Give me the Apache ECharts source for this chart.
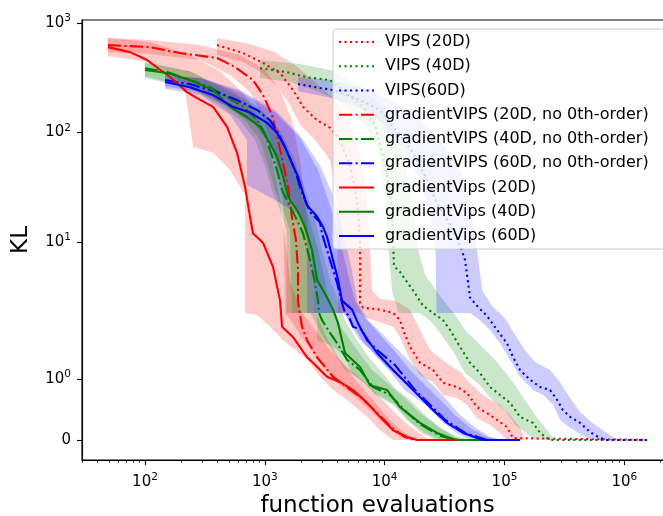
<!DOCTYPE html>
<html>
<head>
<meta charset="utf-8">
<script src="https://cdn.jsdelivr.net/npm/echarts@6/dist/echarts.min.js"></script>
<style>
  html, body { margin: 0; padding: 0; background: #fff; }
  #chart { width: 663px; height: 516px; }
</style>
</head>
<body>
<div id="chart"></div>
<script>
// KL vs function evaluations, [evaluations, KL]
const vips20 = [[399,627],[658,530],[966,430],[1340,348],[1720,243],[2085,171],[2728,129],[3502,110],[4244,85],[5143,50],[5890,24.1],[6233,10.4],[6233,4.5],[6233,2.75],[6607,2.5],[9150,2.4],[11750,2.24],[13440,1.97],[14260,1.81],[16290,1.53],[19740,1.27],[25350,1.15],[30700,0.94],[40200,0.87],[48700,0.77],[59000,0.54],[71600,0.44],[86700,0.33],[105000,0.21],[118000,0.03],[122000,0],[1550000,0]];
const vips40 = [[912,385],[1518,355],[2250,318],[3502,300],[4672,233],[6607,171],[8316,117],[10080,50],[11300,24.1],[11750,10.4],[11970,6.0],[13440,5.3],[17260,3.6],[20940,2.6],[25350,2.24],[30700,1.97],[35130,1.81],[42570,1.53],[51590,1.27],[62520,1.10],[75760,0.87],[91800,0.74],[111300,0.61],[134900,0.38],[173000,0.28],[198200,0.115],[227000,0.03],[240200,0],[1550000,0]];
const vips60 = [[1892,276],[2889,254],[3710,243],[6233,197],[9150,160],[13440,94],[17260,65],[22600,36.7],[27370,22.5],[35130,14.3],[42570,9.3],[46900,6.8],[48700,5.0],[51590,3.1],[59000,2.6],[71600,2.1],[86700,1.81],[105000,1.59],[118000,1.36],[134900,1.15],[163500,0.99],[198200,0.87],[240200,0.82],[275000,0.66],[307000,0.49],[352700,0.38],[427400,0.28],[518000,0.13],[627800,0.03],[718000,0],[1550000,0]];
const grad20 = [[49,627],[110,600],[196,530],[399,477],[564,395],[797,300],[966,219],[1148,144],[1290,85],[1419,52],[1563,31.7],[1687,16.5],[1820,10.4],[1892,5.5],[1892,2.9],[1967,2.15],[2045,1.86],[2250,1.64],[2728,1.36],[3710,1.04],[4672,0.89],[6233,0.71],[8316,0.48],[11090,0.23],[14650,0.05],[17700,0],[100000,0]];
const grad40 = [[100,385],[153,355],[237,300],[349,259],[484,210],[658,171],[861,129],[1005,98],[1105,69],[1264,45],[1393,29.7],[1563,22.7],[1857,15.8],[2085,11.9],[2384,6.8],[2624,4.2],[2780,2.9],[2834,2.24],[3000,1.97],[3502,1.76],[4010,1.59],[4850,1.32],[6233,1.15],[8000,0.87],[11090,0.74],[14650,0.49],[19740,0.26],[28990,0.07],[38700,0],[110000,0]];
const grad60 = [[147,300],[237,276],[399,233],[586,197],[861,160],[1105,129],[1290,99],[1518,69],[1787,45],[1967,31.7],[2166,24.1],[2384,18.7],[2889,15],[3000,11.9],[3502,6.8],[4010,4.2],[4406,2.75],[4672,2.24],[4950,2.15],[5450,1.86],[6470,1.81],[7130,1.64],[8650,1.48],[12220,1.23],[17950,0.82],[23920,0.58],[32000,0.33],[46900,0.115],[71600,0],[130000,0]];
const gv20 = [[49,600],[75,540],[104,457],[162,320],[224,233],[272,205],[370,171],[484,112],[586,65],[684,31.7],[752,17],[797,11.9],[966,9.8],[1170,5.9],[1340,2.9],[1393,1.86],[1720,1.69],[2250,1.36],[2525,1.27],[3305,1.04],[4244,0.95],[5450,0.82],[7130,0.61],[9150,0.38],[11750,0.16],[15380,0.05],[18600,0],[62000,0]];
const gv40 = [[100,371],[153,348],[237,300],[370,243],[513,171],[710,138],[912,112],[1064,85],[1264,60],[1419,39.5],[1563,25.8],[1857,19.5],[2166,13.7],[2477,8.4],[2728,4.5],[3305,3.1],[3710,2.4],[4085,1.92],[4406,1.64],[4672,1.43],[6233,1.2],[7553,0.9],[10480,0.82],[13440,0.54],[19740,0.28],[27370,0.115],[37250,0.016],[42570,0],[120000,0]];
const gv60 = [[147,288],[237,258],[370,219],[543,171],[752,152],[1043,122],[1264,99],[1475,73],[1687,52],[1892,39.5],[2085,27.8],[2250,21.5],[2728,17],[3060,13.7],[3305,11.1],[3710,6.8],[4085,4.5],[4406,2.9],[5345,2.4],[5997,1.92],[6607,1.76],[7553,1.59],[8650,1.43],[11750,1.15],[17260,0.82],[23920,0.54],[33200,0.28],[45100,0.115],[66300,0],[135000,0]];

// spread bands: upper and lower edges, [evaluations, KL]
const vips20Hi = [[399,726],[752,640],[1217,540],[1787,412],[2624,288],[3855,197],[5143,117],[6470,55.8],[7130,24.1],[7553,8.4],[7840,3.6],[9150,3.0],[12220,2.9],[16290,2.4],[19740,1.81],[23920,1.48],[32000,1.28],[42570,1.12],[53700,0.9],[68900,0.71],[91800,0.58],[111300,0.41],[134900,0.21],[148000,0]];
const vips20Lo = [[399,508],[658,438],[948,348],[1290,258],[1623,178],[1967,117],[2624,85],[3502,55.8],[4010,24.1],[4085,2.24],[6233,2.24],[6861,2.04],[9150,1.94],[11750,1.86],[13440,1.69],[16290,1.32],[19740,1.07],[25350,0.95],[30700,0.74],[40200,0.69],[48700,0.58],[59000,0.36],[75760,0.25],[91800,0.115],[105000,0]];
const vips40Hi = [[912,457],[1967,420],[3502,371],[6233,270],[10080,160],[14260,69],[16850,24.1],[19000,8.4],[21780,5.0],[28990,3.2],[38700,2.15],[46900,1.81],[62520,1.56],[83400,1.32],[101000,1.12],[122500,0.9],[148000,0.66],[180000,0.41],[218000,0.2],[264000,0]];
const vips40Lo = [[912,313],[1623,288],[2889,233],[4672,178],[6861,117],[8880,69],[10080,24.1],[10780,8.4],[11520,3.6],[13060,2.24],[19740,2.24],[24640,1.94],[32000,1.64],[38700,1.40],[46900,1.10],[62520,0.9],[78700,0.66],[101000,0.49],[122500,0.25],[148000,0.13],[180000,0]];
const vips60Hi = [[1892,320],[3502,300],[7553,243],[16290,160],[28990,85],[42570,45.3],[51590,24.1],[59000,8.4],[65200,3.6],[78700,2.6],[101000,2.0],[122500,1.73],[148000,1.48],[180000,1.28],[240200,1.15],[291000,0.95],[352700,0.69],[427400,0.46],[567000,0.25],[760700,0.08],[886000,0]];
const vips60Lo = [[1892,237],[3502,208],[6233,167],[10080,117],[14650,69],[19740,36.7],[24640,15.8],[26600,8.4],[27100,2.24],[51590,2.24],[62520,1.97],[75760,1.81],[91800,1.59],[111300,1.32],[134900,1.04],[173000,0.82],[210000,0.74],[255000,0.58],[291000,0.33],[352700,0.2],[427400,0.1],[538000,0]];
const grad20Hi = [[49,726],[110,697],[288,627],[621,508],[1005,371],[1340,243],[1687,129],[1967,55.8],[2166,24.1],[2384,8.4],[2525,3.6],[2676,2.24],[3181,1.73],[4244,1.32],[5662,0.99],[7553,0.71],[11090,0.33],[14650,0.115],[19740,0]];
const grad20Lo = [[49,540],[110,520],[288,457],[513,333],[752,233],[948,144],[1105,85],[1264,45.3],[1419,24.1],[1475,2.24],[1687,1.94],[1967,1.73],[2477,1.45],[3181,1.15],[4244,0.9],[5662,0.71],[7553,0.49],[10080,0.25],[13440,0.05],[16290,0]];
const grad40Hi = [[100,438],[237,362],[513,243],[912,167],[1290,105],[1687,55.8],[1967,29.7],[2290,17.7],[2780,8.4],[3181,4.5],[3400,2.9],[3855,2.04],[4672,1.76],[5890,1.48],[7840,1.15],[11090,0.9],[14650,0.69],[19740,0.44],[28990,0.2],[42570,0]];
const grad40Lo = [[100,326],[237,254],[461,178],[684,129],[912,85],[1064,50],[1217,29.7],[1419,19.5],[1623,12.8],[1687,2.24],[2384,2.24],[2624,1.94],[3000,1.73],[3710,1.45],[4672,1.15],[6233,0.99],[8316,0.77],[12220,0.58],[16290,0.30],[21780,0.115],[28990,0]];
const grad60Hi = [[147,333],[288,313],[621,233],[1217,152],[1967,89],[2780,45.3],[3502,21.5],[4244,10.4],[4950,5.0],[5662,2.9],[6861,2.0],[8880,1.81],[11750,1.56],[16290,1.28],[22850,0.99],[32000,0.69],[42570,0.41],[57300,0.2],[75760,0.05],[101000,0]];
const grad60Lo = [[147,262],[288,233],[513,167],[828,117],[1105,77],[1340,45.3],[1623,26.8],[1967,17.5],[2384,10.4],[2624,2.24],[4672,2.24],[5143,1.89],[6233,1.64],[7840,1.45],[11090,1.12],[14650,0.82],[21780,0.58],[28990,0.33],[38700,0.13],[51590,0]];
const gv20Hi = [[49,726],[110,668],[237,508],[423,362],[684,219],[948,117],[1148,55.8],[1340,24.1],[1475,10.4],[1623,4.5],[1967,2.4],[2624,1.81],[3502,1.48],[4672,1.23],[6233,1.02],[8316,0.79],[11090,0.53],[14650,0.30],[19740,0.10],[23920,0]];
const gv20Lo = [[49,498],[110,438],[178,333],[216,243],[252,73.4],[370,65],[513,45.3],[684,26.8],[684,2.24],[861,2.15],[1105,1.86],[1419,1.64],[2250,1.32],[2889,1.04],[3710,0.82],[4850,0.66],[7130,0.38],[9150,0.16],[11750,0]];
const gv40Hi = [[100,430],[237,362],[513,233],[912,160],[1340,105],[1787,55.8],[2166,29.7],[2624,15.8],[3000,8.4],[3502,4.5],[4085,2.9],[4672,1.97],[5890,1.64],[7130,1.40],[9150,1.15],[12220,0.85],[16290,0.66],[21780,0.41],[28990,0.2],[38700,0.07],[51590,0]];
const gv40Lo = [[100,313],[237,254],[423,178],[621,129],[828,85],[1005,50],[1148,29.7],[1340,19.5],[1518,12.8],[1518,2.24],[2728,2.24],[2728,1.64],[3502,1.56],[4550,1.40],[5345,1.10],[6861,0.94],[8316,0.74],[11750,0.58],[15380,0.33],[19740,0.13],[26500,0]];
const gv60Hi = [[147,326],[288,313],[621,243],[1217,160],[1967,94],[2889,50],[3855,24.1],[4672,10.4],[5345,5.5],[5890,2.9],[7270,1.97],[9150,1.73],[12220,1.45],[16290,1.15],[21780,0.9],[28990,0.66],[38700,0.41],[51590,0.2],[67900,0.07],[91800,0]];
const gv60Lo = [[147,250],[288,219],[513,144],[710,85],[710,33],[1217,24.1],[1967,17.5],[2250,10.4],[2250,2.24],[4490,2.24],[5345,1.92],[6470,1.64],[8316,1.40],[11090,1.15],[16290,0.85],[21780,0.66],[28990,0.41],[38700,0.2],[51590,0.05],[62520,0]];

// axis ticks
const xMajor = [100, 1000, 10000, 100000, 1000000];
const xMinor = [];
[10, 100, 1000, 10000, 100000, 1000000].forEach(d => { for (let k = 2; k <= 9; k++) { const v = k * d; if (v > 29.8 && v < 2.55e6) xMinor.push(v); } });
const yTicksKL = [0, 1, 10, 100, 1000];
const yTickExp = [null, '0', '1', '2', '3'];
const xTickExp = ['2', '3', '4', '5', '6'];

// matplotlib-style symlog, linthresh 2, linscale 1 (units: decades)
const LINT = 2, LINSCALE = 1 / (1 - 1 / 10);
function symlog(v) { return v <= LINT ? v * LINSCALE / LINT : LINSCALE + Math.log10(v / LINT); }
const tr = arr => arr.map(p => [p[0], symlog(p[1])]);

const FONT = 'DejaVu Sans';
const RED = '#ff0000', GREEN = '#008000', BLUE = '#0000ff';
const DOT = [2.1, 3.4], DASHDOT = [13.3, 3.3, 2.1, 3.3];

function band(hi, lo, color) {
  const pts = tr(hi.concat(lo.slice().reverse()));
  return {
    type: 'custom', silent: true, z: 1, animation: false,
    data: pts, encode: { x: 0, y: 1 },
    renderItem: (params, api) => {
      if (params.dataIndex !== 0) return null;
      return { type: 'polygon', shape: { points: pts.map(p => api.coord(p)) }, style: { fill: color } };
    }
  };
}
function line(name, data, color, type) {
  return {
    name, type: 'line', data: tr(data), symbol: 'none', showSymbol: false, z: 3,
    itemStyle: { color },
    lineStyle: { color, width: 2.1, type, cap: 'butt' }
  };
}

const sup = {
  b: { fontSize: 15, fontFamily: FONT, color: '#000' },
  s: { fontSize: 10.5, fontFamily: FONT, color: '#000', padding: [0, 0, 9, 0] }
};

const chart = echarts.init(document.getElementById('chart'), null, { renderer: 'canvas' });
chart.setOption({
  animation: false,
  backgroundColor: '#fff',
  grid: {
    left: 82, top: 20, width: 591, height: 440, outerBoundsMode: 'none', containLabel: false,
    show: true, borderColor: '#000', borderWidth: 1.1, backgroundColor: 'transparent'
  },
  legend: {
    data: ['VIPS (20D)', 'VIPS (40D)', 'VIPS(60D)',
      'gradientVIPS (20D, no 0th-order)', 'gradientVIPS (40D, no 0th-order)', 'gradientVIPS (60D, no 0th-order)',
      'gradientVips (20D)', 'gradientVips (40D)', 'gradientVips (60D)'],
    orient: 'vertical', left: 333, top: 29,
    itemWidth: 35, itemHeight: 16, itemGap: 8.25,
    padding: [5, 20, 5, 5],
    backgroundColor: 'rgba(255,255,255,0.8)', borderColor: '#cccccc', borderWidth: 1, borderRadius: 4,
    itemStyle: { opacity: 0 },
    textStyle: { fontSize: 16, fontFamily: FONT, color: '#000', padding: [0, 0, 0, 6] },
    selectedMode: false
  },
  xAxis: [{
    type: 'log', logBase: 10, min: 29.8, max: 2.55e6,
    name: 'function evaluations', nameLocation: 'middle', nameGap: 35,
    nameTextStyle: { fontSize: 23, fontFamily: FONT, color: '#000' },
    axisLine: { onZero: false, lineStyle: { color: '#000', width: 1.1 } },
    axisTick: { customValues: xMajor, length: 5, lineStyle: { color: '#000', width: 1.1 } },
    axisLabel: {
      customValues: xMajor, margin: 12,
      formatter: v => { const i = xMajor.findIndex(m => Math.abs(m - v) / m < 1e-6); return '{b|10}{s|' + xTickExp[i] + '}'; },
      rich: sup
    },
    splitLine: { show: false }, minorTick: { show: false }
  }, {
    type: 'log', logBase: 10, min: 29.8, max: 2.55e6, position: 'bottom', gridIndex: 0,
    axisLine: { show: false, onZero: false },
    axisTick: { customValues: xMinor, length: 2.8, lineStyle: { color: '#000', width: 0.8 } },
    axisLabel: { show: false }, splitLine: { show: false }
  }],
  yAxis: {
    type: 'value', min: -0.183, max: 3.836,
    name: 'KL', nameLocation: 'middle', nameGap: 49, nameRotate: 90,
    nameTextStyle: { fontSize: 23, fontFamily: FONT, color: '#000' },
    axisLine: { show: true, onZero: false, lineStyle: { color: '#000', width: 1.1 } },
    axisTick: { show: true, customValues: yTicksKL.map(symlog), length: 5, lineStyle: { color: '#000', width: 1.1 } },
    axisLabel: {
      customValues: yTicksKL.map(symlog), margin: 11,
      formatter: v => {
        const i = yTicksKL.findIndex(k => Math.abs(symlog(k) - v) < 1e-6);
        return yTickExp[i] === null ? '{b|0}' : '{b|10}{s|' + yTickExp[i] + '}';
      },
      rich: sup
    },
    splitLine: { show: false }
  },
  series: [
    band(vips20Hi, vips20Lo, 'rgba(255,0,0,0.2)'),
    band(vips40Hi, vips40Lo, 'rgba(0,128,0,0.2)'),
    band(vips60Hi, vips60Lo, 'rgba(0,0,255,0.2)'),
    band(grad20Hi, grad20Lo, 'rgba(255,0,0,0.2)'),
    band(grad40Hi, grad40Lo, 'rgba(0,128,0,0.2)'),
    band(grad60Hi, grad60Lo, 'rgba(0,0,255,0.2)'),
    band(gv20Hi, gv20Lo, 'rgba(255,0,0,0.2)'),
    band(gv40Hi, gv40Lo, 'rgba(0,128,0,0.2)'),
    band(gv60Hi, gv60Lo, 'rgba(0,0,255,0.2)'),
    line('VIPS (20D)', vips20, RED, DOT),
    line('VIPS (40D)', vips40, GREEN, DOT),
    line('VIPS(60D)', vips60, BLUE, DOT),
    line('gradientVIPS (20D, no 0th-order)', grad20, RED, DASHDOT),
    line('gradientVIPS (40D, no 0th-order)', grad40, GREEN, DASHDOT),
    line('gradientVIPS (60D, no 0th-order)', grad60, BLUE, DASHDOT),
    line('gradientVips (20D)', gv20, RED, 'solid'),
    line('gradientVips (40D)', gv40, GREEN, 'solid'),
    line('gradientVips (60D)', gv60, BLUE, 'solid')
  ]
});
</script>
</body>
</html>
